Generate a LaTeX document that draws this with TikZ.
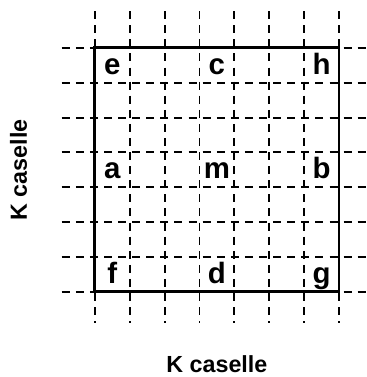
\documentclass[tikz,border=0pt]{standalone}
\usepackage{fontspec}
\setmainfont{Liberation Sans}
\usetikzlibrary{positioning}

\begin{document}
\begin{tikzpicture}[x=1cm, y=1cm,
	raster/.style={dash pattern=on 6.5pt off 5pt, line width=1.6pt},   %gestrichelte Rasterlinien
	feld/.style={font=\fontsize{24}{24}\selectfont\bfseries, anchor=base, inner sep=0pt},
	achse/.style={font=\fontsize{19}{19}\selectfont\bfseries, anchor=base, inner sep=0pt}]
	%Bildbereich festlegen
	\useasboundingbox (-2.72,-2.44) rectangle (7.79,8.37);
	%Raster zeichnen
	\foreach \x in {0,1,...,7} \draw[raster] (\x,8.05) -- (\x,-0.9);
	\foreach \y in {0,1,...,7} \draw[raster] (-0.95,\y) -- (7.9,\y);
	% Rahmen zeichnen
	\draw[line width=2.4pt] (0,0) rectangle (7,7);
	% Felder beschriften
	\foreach \n/\i/\j in {e/0/6, c/3/6, h/6/6, a/0/3, m/3/3, b/6/3, f/0/0, d/3/0, g/6/0}
		\node[feld] (\n) at (\i+0.5,\j+0.24) {\n};
	% Achsen beschriften
	\node[achse] (unten) at (3.5,-2.3) {K caselle};
	\node[achse, rotate=90] (links) at (-1.95,3.5) {K caselle};
\end{tikzpicture}
\end{document}
